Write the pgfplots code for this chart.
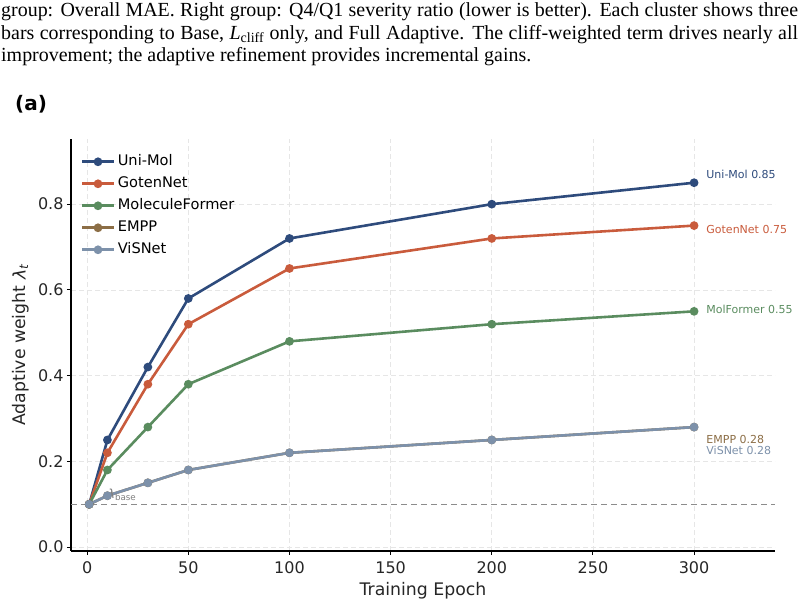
\documentclass[border=0pt]{standalone}
\usepackage{fontspec}
\setmainfont{DejaVu Sans}
\newfontfamily\capfont{Liberation Serif}
\usepackage{graphicx}
\usepackage{pgfplots}
\pgfplotsset{compat=1.18}

\definecolor{cUniMol}{HTML}{2E4B7C}
\definecolor{cGoten}{HTML}{C95B3C}
\definecolor{cMolF}{HTML}{5A8C5F}
\definecolor{cEMPP}{HTML}{8C6E46}
\definecolor{cViS}{HTML}{7D91AA}
\definecolor{cGrid}{HTML}{E6E6E6}

% caption typesetting: a common horizontal squeeze, justified full lines
\newcommand\capsize{\capfont\fontsize{20}{24}\selectfont}
\newcommand\capthree{improvement; the adaptive refinement provides incremental gains.}
\newlength\capnat
\settowidth\capnat{\capsize\capthree}
\pgfmathsetmacro\capscale{530/\capnat}
\pgfmathsetlengthmacro\capfull{797pt/\capscale}

\begin{document}
\begin{tikzpicture}
\useasboundingbox (0,0) rectangle (804pt,605pt);

% caption lines of the figure
\node[anchor=base west, inner sep=0pt] at (1pt,588pt) {\scalebox{\capscale}[1]{\makebox[\capfull][s]{\capsize group: Overall MAE. Right group: Q4/Q1 severity ratio (lower is better). Each cluster shows three}}};
\node[anchor=base west, inner sep=0pt] at (1pt,565.5pt) {\scalebox{\capscale}[1]{\makebox[\capfull][s]{\capsize bars corresponding to Base, \textit{L}\textsubscript{cliff} only, and Full Adaptive. The cliff-weighted term drives nearly all}}};
\node[anchor=base west, inner sep=0pt] at (1pt,543pt) {\scalebox{\capscale}[1]{\capsize\capthree}};
\node[font=\bfseries\fontsize{20}{24}\selectfont, inner sep=0pt] at (31pt,501pt) {(a)};

\begin{axis}[
  at={(71pt,54pt)}, anchor=south west,
  scale only axis, width=704pt, height=412pt,
  xmin=-8, xmax=340, ymin=-0.009, ymax=0.952,
  axis lines*=left,
  axis line style={-, black, line width=1.3pt},
  xtick={0,50,100,150,200,250,300},
  ytick={0,0.2,0.4,0.6,0.8},
  tick align=outside,
  major tick length=4pt,
  tick style={black, line width=1pt},
  grid=major,
  major grid style={cGrid, line width=0.8pt, dash pattern=on 5pt off 3pt},
  /pgf/number format/assume math mode=true,
  yticklabel style={/pgf/number format/.cd, fixed, fixed zerofill, precision=1},
  ticklabel style={font=\fontsize{16}{18}\selectfont, text=black!85},
  xticklabel style={yshift=-3pt},
  xlabel={Training Epoch},
  ylabel={Adaptive weight \textit{λ}\textsubscript{\textit{t}}},
  label style={font=\fontsize{17.3}{20}\selectfont, text=black!85},
  xlabel style={at={(axis description cs:0.5,0)}, anchor=center, yshift=-40pt},
  ylabel style={at={(axis description cs:-0.0714,0.5)}, anchor=center},
  clip=false,
  every axis plot/.append style={line width=2.6pt, mark=*, mark size=3pt},
  legend style={at={(0.0135,0.967)}, anchor=north west, draw=none, fill=none,
    inner sep=0pt, row sep=4pt,
    font=\fontsize{14.6}{16}\selectfont,
    nodes={text height=11pt, text depth=3pt, inner ysep=2pt, inner xsep=2.5pt}},
  legend cell align=left,
  legend image code/.code={\draw[mark repeat=2,mark phase=2] plot coordinates {(0pt,0pt) (16pt,0pt) (32pt,0pt)};},
]

% baseline weight
\addplot[forget plot, mark=none, line width=1.1pt, color=black!45, dash pattern=on 6pt off 4pt] coordinates {(-8,0.1) (340,0.1)};

\addplot[color=cUniMol] coordinates {(1,0.10) (10,0.25) (30,0.42) (50,0.58) (100,0.72) (200,0.80) (300,0.85)};
\addlegendentry{Uni-Mol}
\addplot[color=cGoten] coordinates {(1,0.10) (10,0.22) (30,0.38) (50,0.52) (100,0.65) (200,0.72) (300,0.75)};
\addlegendentry{GotenNet}
\addplot[color=cMolF] coordinates {(1,0.10) (10,0.18) (30,0.28) (50,0.38) (100,0.48) (200,0.52) (300,0.55)};
\addlegendentry{MoleculeFormer}
\addplot[color=cEMPP] coordinates {(1,0.10) (10,0.12) (30,0.15) (50,0.18) (100,0.22) (200,0.25) (300,0.28)};
\addlegendentry{EMPP}
\addplot[color=cViS] coordinates {(1,0.10) (10,0.12) (30,0.15) (50,0.18) (100,0.22) (200,0.25) (300,0.28)};
\addlegendentry{ViSNet}

% final-value labels
\node[anchor=west, inner sep=0pt, font=\fontsize{11}{13}\selectfont, text=cUniMol] at (axis cs:306,0.870) {Uni-Mol 0.85};
\node[anchor=west, inner sep=0pt, font=\fontsize{11}{13}\selectfont, text=cGoten] at (axis cs:306,0.741) {GotenNet 0.75};
\node[anchor=west, inner sep=0pt, font=\fontsize{11}{13}\selectfont, text=cMolF] at (axis cs:306,0.5555) {MolFormer 0.55};
\node[anchor=west, inner sep=0pt, font=\fontsize{11}{13}\selectfont, text=cEMPP] at (axis cs:306,0.2517) {EMPP 0.28};
\node[anchor=west, inner sep=0pt, font=\fontsize{11}{13}\selectfont, text=cViS] at (axis cs:306,0.2268) {ViSNet 0.28};

\node[anchor=base west, inner sep=0pt, font=\fontsize{12.5}{14}\selectfont, text=black!50] at (axis cs:10,0.114) {\textit{λ}\textsubscript{base}};
\end{axis}
\end{tikzpicture}
\end{document}
